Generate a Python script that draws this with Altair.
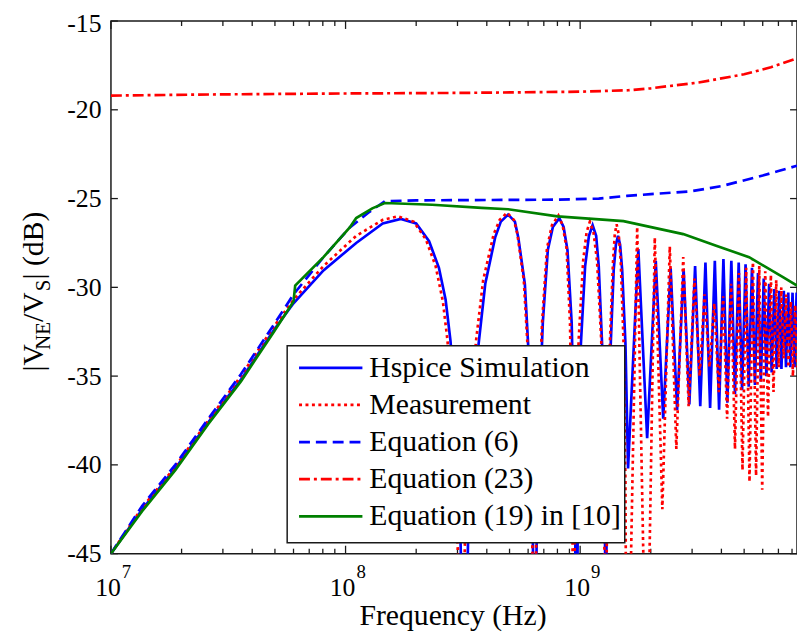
import altair as alt
import pandas as pd

# ---------------- data ----------------
hspice_f = [1.00e7, 1.36e7, 1.88e7, 2.60e7, 3.58e7, 4.95e7, 6.00e7, 8.05e7, 1.11e8, 1.44e8,
            1.72e8, 2.00e8, 2.27e8, 2.50e8, 2.67e8, 2.80e8, 2.95e8, 3.05e8, 3.13e8, 3.20e8,
            3.27e8, 3.35e8, 3.47e8, 3.69e8, 3.94e8, 4.34e8, 4.59e8, 4.93e8, 5.27e8, 5.45e8,
            5.81e8, 6.00e8, 6.12e8, 6.26e8, 6.34e8, 6.40e8, 6.46e8, 6.55e8, 6.70e8, 6.93e8,
            7.28e8, 7.65e8, 8.15e8, 8.50e8, 8.83e8, 9.20e8, 9.40e8, 9.52e8, 9.58e8, 9.62e8,
            9.70e8, 9.82e8, 1.007e9, 1.05e9, 1.09e9, 1.13e9, 1.17e9, 1.20e9, 1.24e9, 1.27e9,
            1.285e9, 1.30e9, 1.33e9, 1.35e9, 1.39e9, 1.42e9, 1.45e9, 1.48e9, 1.51e9, 1.56e9,
            1.60e9, 1.77e9, 1.93e9, 2.10e9, 2.26e9, 2.43e9, 2.59e9, 2.76e9, 2.92e9, 3.09e9,
            3.25e9, 3.42e9, 3.58e9, 3.75e9, 3.91e9, 4.08e9, 4.24e9, 4.41e9, 4.57e9, 4.74e9,
            4.90e9, 5.07e9, 5.23e9, 5.40e9, 5.56e9, 5.73e9, 5.89e9, 6.06e9, 6.22e9, 6.39e9,
            6.55e9, 6.72e9, 6.88e9, 7.05e9, 7.21e9, 7.38e9, 7.54e9, 7.71e9, 7.87e9, 8.04e9,
            8.20e9, 8.37e9]
hspice_db = [-45.0, -42.5, -40.2, -37.6, -35.2, -32.4, -30.9, -29.05, -27.5, -26.4,
             -26.15, -26.4, -27.4, -28.9, -30.7, -33.0, -37.0, -41.5, -47.0, -60.0,
             -49.0, -42.5, -37.5, -33.2, -29.8, -27.2, -26.3, -25.9, -26.3, -27.2,
             -29.8, -33.2, -37.5, -42.5, -48.0, -60.0, -49.0, -42.5, -37.0, -32.0,
             -27.9, -26.6, -26.1, -26.6, -27.9, -32.0, -37.5, -43.0, -49.0, -60.0,
             -48.0, -40.0, -33.2, -28.8, -27.1, -26.5, -27.1, -28.8, -33.2, -40.0,
             -50.0, -42.0, -36.0, -33.2, -29.0, -27.6, -27.1, -27.6, -29.0, -33.2,
             -40.2, -27.85, -38.5, -28.5, -37.4, -28.9, -36.9, -28.95, -36.6, -28.8,
             -36.7, -28.6, -36.8, -28.5, -36.9, -28.4, -36.5, -28.5, -36.0, -28.6,
             -35.8, -28.7, -35.6, -28.9, -35.5, -29.2, -35.3, -29.5, -35.0, -29.8,
             -34.8, -30.1, -34.6, -30.2, -34.6, -30.2, -34.5, -30.3, -34.5, -30.3,
             -34.5, -30.3]

meas_f = [1.00e7, 1.36e7, 1.88e7, 2.60e7, 3.58e7, 4.95e7, 6.00e7, 8.05e7, 1.11e8, 1.44e8,
          1.67e8, 1.95e8, 2.20e8, 2.42e8, 2.60e8, 2.72e8, 2.86e8, 2.96e8, 3.04e8, 3.10e8,
          3.17e8, 3.25e8, 3.37e8, 3.60e8, 3.86e8, 4.28e8, 4.54e8, 4.88e8, 5.22e8, 5.40e8,
          5.75e8, 5.95e8, 6.08e8, 6.22e8, 6.31e8, 6.37e8, 6.43e8, 6.52e8, 6.66e8, 6.88e8,
          7.22e8, 7.58e8, 8.08e8, 8.42e8, 8.75e8, 9.05e8, 9.20e8, 9.28e8, 9.34e8, 9.42e8,
          9.55e8, 9.85e8, 1.03e9, 1.065e9, 1.10e9, 1.14e9, 1.18e9, 1.23e9, 1.26e9, 1.275e9,
          1.28e9, 1.29e9, 1.31e9, 1.34e9, 1.38e9, 1.405e9, 1.43e9, 1.46e9, 1.49e9, 1.53e9,
          1.56e9, 1.58e9, 1.75e9, 1.92e9, 2.08e9, 2.24e9, 2.41e9, 2.57e9, 2.75e9, 2.90e9,
          3.07e9, 3.23e9, 3.39e9, 3.56e9, 3.73e9, 3.90e9, 4.07e9, 4.23e9, 4.40e9, 4.57e9,
          4.75e9, 4.92e9, 5.10e9, 5.27e9, 5.45e9, 5.62e9, 5.80e9, 5.97e9, 6.15e9, 6.32e9,
          6.50e9, 6.67e9, 6.85e9, 7.02e9, 7.20e9, 7.37e9, 7.55e9, 7.72e9, 7.90e9, 8.07e9,
          8.25e9, 8.40e9]
meas_db = [-45.0, -42.4, -40.1, -37.5, -35.0, -32.2, -30.7, -28.8, -27.1, -26.2,
           -26.0, -26.3, -27.3, -28.8, -30.8, -33.0, -37.0, -41.5, -47.0, -60.0,
           -49.0, -42.5, -37.5, -33.0, -29.6, -27.0, -26.2, -25.8, -26.2, -27.0,
           -29.6, -33.0, -37.5, -42.5, -48.0, -60.0, -49.0, -42.5, -37.0, -32.0,
           -27.8, -26.5, -25.95, -26.5, -27.8, -32.0, -37.5, -44.0, -60.0, -48.0,
           -40.0, -33.0, -28.5, -26.9, -26.3, -26.9, -28.5, -33.0, -40.0, -48.0,
           -60.0, -48.0, -40.0, -33.0, -28.6, -27.0, -26.45, -27.0, -28.6, -33.0,
           -41.0, -58.0, -26.6, -55.0, -27.2, -42.5, -27.7, -39.1, -28.3, -36.7,
           -29.5, -35.0, -30.4, -34.5, -30.9, -35.9, -30.5, -37.4, -29.8, -39.1,
           -29.2, -40.3, -28.9, -40.95, -28.4, -40.6, -28.8, -41.4, -29.1, -37.3,
           -29.3, -35.9, -29.6, -34.5, -30.0, -34.0, -30.4, -34.5, -30.8, -35.0,
           -31.0, -34.5]

eq6_f = [1.00e7, 1.36e7, 1.88e7, 2.60e7, 3.58e7, 4.95e7, 6.00e7, 8.05e7, 1.04e8, 1.25e8,
         1.47e8, 2.00e8, 4.00e8, 8.00e8, 1.20e9, 1.58e9, 2.00e9, 2.93e9, 4.00e9, 4.77e9,
         6.00e9, 7.00e9, 8.40e9]
eq6_db = [-45.0, -42.3, -40.0, -37.4, -34.9, -32.1, -30.4, -28.3, -26.64, -25.8,
          -25.15, -25.1, -25.08, -25.06, -25.0, -24.85, -24.75, -24.6, -24.3, -24.04,
          -23.7, -23.45, -23.15]

eq23_f = [1.00e7, 3.00e7, 1.00e8, 3.00e8, 1.00e9, 1.60e9, 2.00e9, 3.20e9, 5.00e9, 6.50e9, 8.40e9]
eq23_db = [-19.2, -19.13, -19.08, -19.05, -18.98, -18.9, -18.79, -18.46, -18.0, -17.6, -17.1]

eq19_f = [1.00e7, 1.36e7, 1.88e7, 2.60e7, 3.58e7, 4.95e7, 6.00e7, 6.10e7, 8.05e7, 1.04e8,
          1.11e8, 1.30e8, 1.47e8, 2.34e8, 3.80e8, 4.93e8, 8.00e8, 1.53e9, 2.75e9, 3.80e9,
          5.25e9, 7.26e9, 8.40e9]
eq19_db = [-45.0, -42.6, -40.3, -37.7, -35.3, -32.5, -30.8, -29.9, -28.3, -26.64,
           -26.1, -25.55, -25.25, -25.35, -25.52, -25.6, -26.0, -26.27, -27.0, -27.66,
           -28.3, -29.4, -29.9]

x_major = [1e7, 1e8, 1e9]
x_base = ["10", "10", "10"]
x_exponent = ["7", "8", "9"]
x_minor = [2e7, 3e7, 4e7, 5e7, 6e7, 7e7, 8e7, 9e7,
           2e8, 3e8, 4e8, 5e8, 6e8, 7e8, 8e8, 9e8,
           2e9, 3e9, 4e9, 5e9, 6e9, 7e9, 8e9]
y_ticks = [-45, -40, -35, -30, -25, -20, -15]

legend_labels = ["Hspice Simulation", "Measurement", "Equation (6)", "Equation (23)",
                 "Equation (19) in [10]"]

# ---------------- styling ----------------
W, H = 693, 538
FONT = "Liberation Serif"
AX = "#1a1a1a"
xscale = alt.Scale(type="log", domain=[1e7, 8.4e9], nice=False)
yscale = alt.Scale(domain=[-45, -15], nice=False, zero=False)
YAX = alt.Axis(values=y_ticks, labelExpr="'-' + abs(datum.value)", labelFont=FONT,
               labelFontSize=26, labelColor="black", labelPadding=10, ticks=False,
               tickSize=0, domain=False, grid=False, title=None, labelFlush=False,
               labelOffset={"condition": {"test": "datum.value == -15", "value": 3},
                            "value": 0})

styles = [
    dict(color="#0000ff", strokeWidth=2.7),
    dict(color="#ff0000", strokeWidth=2.7, strokeDash=[3, 3.5]),
    dict(color="#0000ff", strokeWidth=2.7, strokeDash=[11, 6]),
    dict(color="#ff0000", strokeWidth=2.7, strokeDash=[11, 4, 3, 4]),
    dict(color="#008000", strokeWidth=2.7),
]


def one():
    return pd.DataFrame({"k": [0]})


def series(f, db, style):
    df = pd.DataFrame({"f": f, "db": db})
    return alt.Chart(df).mark_line(clip=True, **style).encode(
        x=alt.X("f:Q", scale=xscale, axis=None),
        y=alt.Y("db:Q", scale=yscale, axis=YAX),
        order="f:Q",
    )


def xticks(vals, y0, y1):
    return alt.Chart(pd.DataFrame({"v": vals})).mark_rule(color=AX, strokeWidth=1.3).encode(
        x=alt.X("v:Q", scale=xscale, axis=None), y=alt.value(y0), y2=alt.value(y1))


def yticks(x0, x1):
    return alt.Chart(pd.DataFrame({"v": y_ticks})).mark_rule(color=AX, strokeWidth=1.3).encode(
        y=alt.Y("v:Q", scale=yscale, axis=YAX), x=alt.value(x0), x2=alt.value(x1))


layers = [
    yticks(0, 7),
    yticks(W - 7, W),
    xticks(x_major, H, H - 8),
    xticks(x_major, 0, 8),
    xticks(x_minor, H, H - 5),
    xticks(x_minor, 0, 5),
]

all_series = [(hspice_f, hspice_db), (meas_f, meas_db), (eq6_f, eq6_db),
              (eq23_f, eq23_db), (eq19_f, eq19_db)]
for (f, db), st in zip(all_series, styles):
    layers.append(series(f, db, st))

# legend box (MATLAB style)
layers.append(alt.Chart(one()).mark_rect(fill="white", stroke=AX, strokeWidth=1.5).encode(
    x=alt.value(178), x2=alt.value(519), y=alt.value(328), y2=alt.value(527)))
for i, (lab, st) in enumerate(zip(legend_labels, styles)):
    ry = 350.3 + i * 37.5
    layers.append(alt.Chart(one()).mark_rule(**st).encode(
        x=alt.value(190), x2=alt.value(254), y=alt.value(ry)))
    layers.append(alt.Chart(one()).mark_text(
        text=lab, font=FONT, fontSize=30, color="black", align="left", baseline="middle"
    ).encode(x=alt.value(261), y=alt.value(ry)))

# x tick labels 10^n
xl = pd.DataFrame({"v": x_major, "b": x_base, "e": x_exponent})
layers.append(alt.Chart(xl).mark_text(font=FONT, fontSize=26, color="black", align="right",
                                      baseline="alphabetic", dx=10).encode(
    x=alt.X("v:Q", scale=xscale, axis=None), y=alt.value(580.5), text="b:N"))
layers.append(alt.Chart(xl).mark_text(font=FONT, fontSize=19, color="black", align="left",
                                      baseline="alphabetic", dx=11).encode(
    x=alt.X("v:Q", scale=xscale, axis=None), y=alt.value(562.5), text="e:N"))

# axis titles
layers.append(alt.Chart(one()).mark_text(text="Frequency (Hz)", font=FONT, fontSize=30,
                                         color="black", align="center",
                                         baseline="alphabetic").encode(
    x=alt.value(345.5), y=alt.value(610.5)))

ytitle_parts = [("|V", 30, -69, 354), ("NE", 21, -62, 332), ("/V", 30, -69, 304),
                ("S", 21, -62, 273), ("| (dB)", 30, -69, 261)]
for txt, fs, xx, yy in ytitle_parts:
    layers.append(alt.Chart(one()).mark_text(text=txt, font=FONT, fontSize=fs, color="black",
                                             angle=270, align="left",
                                             baseline="alphabetic").encode(
        x=alt.value(xx), y=alt.value(yy)))

chart = alt.layer(*layers).properties(
    width=W, height=H,
    autosize=alt.AutoSizeParams(type="none"),
    padding={"left": 104, "top": 10, "right": 0, "bottom": 77},
    background="white",
).configure(font=FONT).configure_view(stroke=AX, strokeWidth=1.5)

chart.save("out.html", embed_options={"renderer": "svg", "actions": False})
